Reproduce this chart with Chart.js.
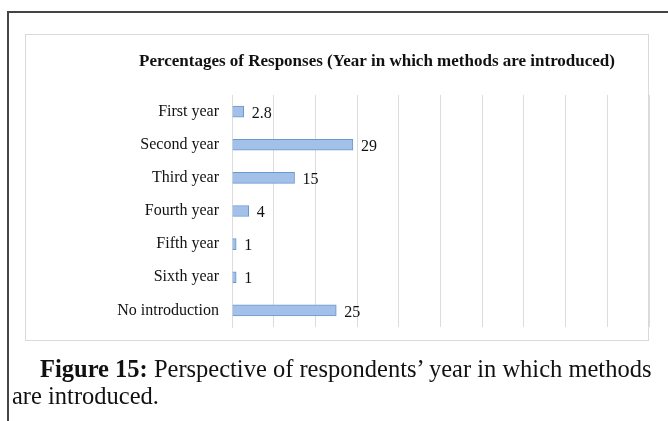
<!DOCTYPE html>
<html>
<head>
<meta charset="utf-8">
<script src="https://cdn.jsdelivr.net/npm/chart.js@4/dist/chart.umd.min.js"></script>
<style>
  html, body { margin: 0; padding: 0; background: #fff; }
  #wrap { position: relative; width: 668px; height: 421px; overflow: hidden; }
  #frame { position: absolute; left: 7px; top: 11px; width: 700px; height: 500px;
           border-left: 2px solid #444; border-top: 2px solid #444; }
  #myChart { position: absolute; left: 0; top: 0; }
  #caption { position: absolute; left: 12px; top: 355px; width: 650px;
             font-family: "Liberation Serif", "Times New Roman", serif;
             font-size: 24.5px; line-height: 27px; color: #111; }
  #caption b { margin-left: 28px; }
</style>
</head>
<body>
<div id="wrap">
  <div id="frame"></div>
  <canvas id="myChart" width="668" height="421"></canvas>
  <div id="caption"><b>Figure 15:</b> Perspective of respondents’ year in which methods are introduced.</div>
</div>
<script>
var years = ["First year", "Second year", "Third year", "Fourth year", "Fifth year", "Sixth year", "No introduction"];
var percents = [2.8, 29, 15, 4, 1, 1, 25];
var xTicks = [0, 10, 20, 30, 40, 50, 60, 70, 80, 90, 100];
var chartTitle = "Percentages of Responses (Year in which methods are introduced)";

// box round the chart plus the bold heading
var boxPlugin = {
    id: 'box',
    beforeDraw: function(chart) {
        var ctx = chart.ctx;
        ctx.save();
        ctx.strokeStyle = '#d9d9d9';
        ctx.lineWidth = 1;
        ctx.strokeRect(25.5, 34.5, 623, 306);
        ctx.fillStyle = '#111';
        ctx.font = 'bold 17px "Liberation Serif"';
        ctx.textAlign = 'center';
        ctx.textBaseline = 'middle';
        ctx.fillText(chartTitle, 377, 62);
        ctx.restore();
    }
};

// value printed just past the end of each bar
var valueLabels = {
    id: 'valueLabels',
    afterDatasetsDraw: function(chart) {
        var ctx = chart.ctx;
        var meta = chart.getDatasetMeta(0);
        ctx.save();
        ctx.fillStyle = '#111';
        ctx.font = '16px "Liberation Serif"';
        ctx.textAlign = 'left';
        ctx.textBaseline = 'middle';
        meta.data.forEach(function(bar, i) {
            ctx.fillText(String(percents[i]), bar.x + 8, bar.y + 2);
        });
        ctx.restore();
    }
};

function renderChart(data, labels) {
    var ctx = document.getElementById("myChart").getContext('2d');
    var myChart = new Chart(ctx, {
        type: 'bar',
        data: {
            labels: labels,
            datasets: [{
                label: 'Percentages of Responses',
                data: data,
                backgroundColor: '#a2c0e8',
                borderColor: '#6a98d0',
                borderWidth: 1,
                barThickness: 11
            }]
        },
        options: {
            indexAxis: 'y',
            responsive: false,
            animation: false,
            layout: { padding: { left: 25, right: 19, top: 95, bottom: 94 } },
            plugins: {
                legend: { display: false },
                title: { display: false },
                tooltip: { enabled: false }
            },
            scales: {
                x: {
                    min: xTicks[0],
                    max: xTicks[xTicks.length - 1],
                    afterBuildTicks: function(scale) {
                        scale.ticks = xTicks.map(function(v) { return { value: v }; });
                    },
                    ticks: { display: false },
                    grid: { color: '#dcdcdc', drawTicks: false },
                    border: { display: false }
                },
                y: {
                    afterFit: function(scale) { scale.width = 207; },
                    ticks: {
                        color: '#111',
                        padding: 13,
                        font: { family: 'Liberation Serif', size: 16 }
                    },
                    grid: { display: false, drawTicks: false },
                    border: { display: true, color: '#dcdcdc' }
                }
            }
        },
        plugins: [boxPlugin, valueLabels]
    });
}

renderChart(percents, years);
</script>
</body>
</html>
